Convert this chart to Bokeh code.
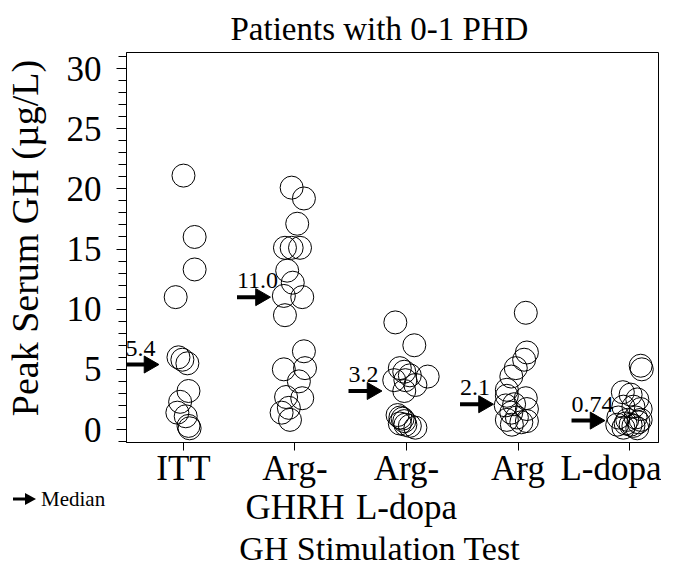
import math
from bokeh.plotting import figure
from bokeh.models import FixedTicker, Range1d, ColumnDataSource, LabelSet, GridBox, Div
from bokeh.core.properties import value
from bokeh.embed import file_html
from bokeh.resources import INLINE

# ---------------- data ----------------
title_text = "Patients with 0-1 PHD"
x_title = "GH Stimulation Test"
y_title = "Peak Serum GH (µg/L)"
legend_text = "Median"
categories = ["ITT", "Arg-\nGHRH", "Arg-\nL-dopa", "Arg", "L-dopa"]
positions = [1, 2, 3, 4, 5]

itt_values = [21.1, 16.0, 13.3, 11.0, 6.0, 5.8, 5.5, 3.2, 2.3, 1.4, 1.1, 0.3, 0.1]
itt_jitter = [0.00, 0.10, 0.10, -0.07, -0.045, -0.01, 0.035, 0.045, -0.03, -0.055, 0.02, 0.045, 0.055]

ghrh_values = [20.1, 19.2, 17.1, 15.1, 15.1, 15.1, 13.2, 12.2, 11.1, 11.0, 9.5,
               6.5, 5.1, 5.0, 4.0, 2.7, 2.6, 1.8, 1.4, 0.8]
ghrh_jitter = [-0.03, 0.08, 0.02, -0.09, -0.03, 0.045, -0.07, -0.02, -0.10, 0.065, -0.09,
               0.08, 0.09, -0.10, 0.035, -0.08, 0.065, -0.055, -0.12, -0.045]

argld_values = [8.9, 7.0, 5.1, 4.8, 4.5, 4.4, 4.1, 4.1, 3.7, 3.2,
                1.2, 1.0, 0.9, 0.7, 0.5, 0.4, 0.3, 0.15]
argld_jitter = [-0.10, 0.07, -0.06, -0.02, 0.03, 0.19, -0.11, -0.01, 0.08, -0.02,
                -0.08, -0.055, -0.035, -0.02, -0.06, -0.01, 0.03, 0.08]

arg_values = [9.7, 6.4, 5.8, 5.1, 4.4, 3.3, 2.8, 2.6, 2.1, 2.0, 1.7, 1.4, 1.0, 0.8, 0.7, 0.6, 0.4]
arg_jitter = [0.07, 0.08, 0.055, -0.02, -0.06, -0.10, -0.10, 0.07, -0.035, -0.11, 0.08,
              -0.06, -0.01, -0.10, 0.08, 0.03, -0.055]

ldopa_values = [5.3, 5.0, 3.1, 2.9, 2.5, 1.9, 1.9, 1.7, 1.0, 1.0, 0.8, 0.8, 0.6, 0.5,
                0.4, 0.4, 0.3, 0.15, 0.1]
ldopa_jitter = [0.10, 0.11, -0.06, 0.01, 0.07, 0.035, -0.055, 0.10, -0.10, 0.055, -0.02,
                0.10, 0.08, -0.035, -0.11, 0.01, 0.035, -0.055, 0.07]

medians = [5.4, 11.0, 3.2, 2.1, 0.74]
median_labels = ["5.4", "11.0", "3.2", "2.1", "0.74"]

y_ticks = [0, 5, 10, 15, 20, 25, 30]
y_minor = list(range(-1, 32))

FONT = "Liberation Serif"
W, H = 661, 569
NB = "\u00a0"

X0, X1 = 0.489, 5.26
Y0, Y1 = -1.08, 31.33
px_x = (W - 3 - 126) / (X1 - X0)

# ---------------- main figure ----------------
p = figure(width=W, height=H,
           x_range=Range1d(X0, X1), y_range=Range1d(Y0, Y1),
           output_backend="svg", toolbar_location=None,
           min_border_left=126, min_border_right=3, min_border_top=52, min_border_bottom=H - 443)

p.title.text = title_text
p.title.text_font = FONT
p.title.text_font_size = "33px"
p.title.text_font_style = "normal"
p.title.text_color = "black"
p.title.align = "left"
p.title.offset = 104
p.title.standoff = 12

p.xgrid.visible = False
p.ygrid.visible = False
p.outline_line_color = "black"
p.outline_line_width = 1
p.background_fill_color = "white"
p.border_fill_color = "white"

# y axis
p.yaxis.ticker = FixedTicker(ticks=y_ticks, minor_ticks=y_minor)
p.yaxis.axis_label = NB * 2 + y_title
p.yaxis.major_tick_in = 0
p.yaxis.major_tick_out = 10
p.yaxis.minor_tick_in = 0
p.yaxis.minor_tick_out = 8
p.yaxis.major_label_standoff = 15
p.yaxis.axis_label_standoff = 18

# x axis
p.xaxis.ticker = FixedTicker(ticks=positions)
p.xaxis.major_label_overrides = {pos: lab for pos, lab in zip(positions, categories)}
p.xaxis.axis_label = x_title + NB * 3
p.xaxis.major_tick_in = 0
p.xaxis.major_tick_out = 8
p.xaxis.minor_tick_line_color = None
p.xaxis.major_label_standoff = -2
p.xaxis.axis_label_standoff = 0

for ax in (p.xaxis[0], p.yaxis[0]):
    ax.axis_line_color = "black"
    ax.major_tick_line_color = "black"
    ax.major_label_text_font = FONT
    ax.major_label_text_color = "black"
    ax.axis_label_text_font = FONT
    ax.axis_label_text_font_style = "normal"
    ax.axis_label_text_color = "black"
p.yaxis.minor_tick_line_color = "black"
p.xaxis.major_label_text_font_size = "35px"
p.xaxis.major_label_text_line_height = 1.0
p.yaxis.major_label_text_font_size = "35px"
p.xaxis.axis_label_text_font_size = "34px"
p.yaxis.axis_label_text_font_size = "38px"

# points
groups = [(itt_values, itt_jitter), (ghrh_values, ghrh_jitter), (argld_values, argld_jitter),
          (arg_values, arg_jitter), (ldopa_values, ldopa_jitter)]
xs, ys = [], []
for pos, (vals, jit) in zip(positions, groups):
    for v, j in zip(vals, jit):
        xs.append(pos + j)
        ys.append(v)
p.scatter(x=xs, y=ys, marker="circle", size=23, fill_color=None,
          line_color="black", line_width=1)

# median arrows (shaft + head) with value labels
HEAD = 17
tip_px = HEAD * math.sqrt(3) / 3
msrc = ColumnDataSource(dict(
    xs=[pos - 0.52 for pos in positions],
    xh=[pos - 0.22 - tip_px / px_x for pos in positions],
    y=medians,
    label=median_labels,
))
p.segment(x0="xs", y0="y", x1="xh", y1="y", line_width=4, line_color="black", source=msrc)
p.scatter(x="xh", y="y", marker="triangle", angle=-math.pi / 2, size=HEAD,
          fill_color="black", line_color="black", source=msrc)
p.add_layout(LabelSet(x="xs", y="y", text="label", source=msrc, y_offset=9,
                      text_baseline="alphabetic", text_align="left",
                      text_font=value(FONT), text_font_size="24px", text_color="black"))

# ---------------- legend key, below-left of the frame (overlaid on the same cell) ----------------
legend_svg = f"""
<svg xmlns="http://www.w3.org/2000/svg" width="{W}" height="{H}" style="display:block">
  <line x1="8" y1="494" x2="22" y2="494" stroke="black" stroke-width="3"/>
  <polygon points="20,488 31,494 20,500" fill="black"/>
  <text x="36" y="501" style="font-family:'{FONT}';font-size:21px" fill="black">{legend_text}</text>
</svg>
"""
key = Div(text=legend_svg, width=W, height=H, styles={"pointer-events": "none"})

layout = GridBox(children=[(p, 0, 0), (key, 0, 0)])

open("out.html", "w").write(file_html(layout, INLINE))
